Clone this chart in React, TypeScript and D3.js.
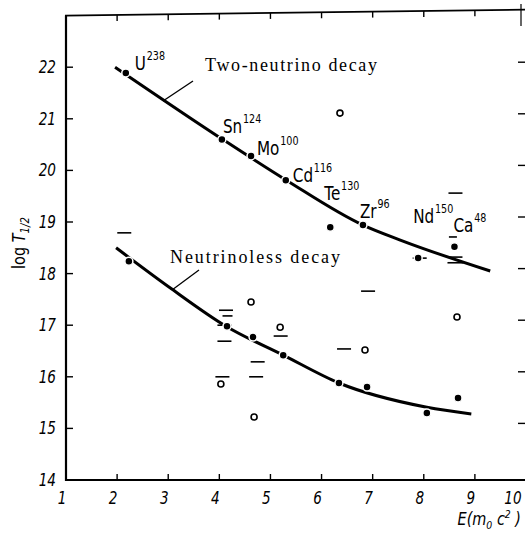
import React from "react";
import * as d3 from "d3";

// ---- data ----
const xTicks = [1, 2, 3, 4, 5, 6, 7, 8, 9, 10];
const yTicks = [14, 15, 16, 17, 18, 19, 20, 21, 22];

// two-neutrino decay curve
const twoNuCurveX = [1.96, 4.05, 5.31, 6.81, 7.54, 9.3];
const twoNuCurveY = [22.0, 20.61, 19.81, 18.94, 18.65, 18.05];

// neutrinoless decay curve
const zeroNuCurveX = [1.98, 3.07, 4.13, 5.25, 6.34, 8.06, 8.93];
const zeroNuCurveY = [18.5, 17.7, 16.98, 16.42, 15.88, 15.41, 15.28];

// isotopes (two-neutrino measured points)
const isotopes = ["U", "Sn", "Mo", "Cd", "Te", "Zr", "Nd", "Ca"];
const massNumbers = ["238", "124", "100", "116", "130", "96", "150", "48"];
const twoNuX = [2.17, 4.05, 4.62, 5.3, 6.17, 6.81, 7.89, 8.6];
const twoNuY = [21.89, 20.6, 20.28, 19.81, 18.9, 18.94, 18.3, 18.52];

// neutrinoless filled points
const zeroNuX = [2.23, 4.15, 4.66, 5.25, 6.34, 6.89, 8.06, 8.67];
const zeroNuY = [18.24, 16.98, 16.77, 16.42, 15.88, 15.8, 15.3, 15.59];

// open circles
const openX = [4.03, 4.62, 4.68, 5.19, 6.36, 6.85, 8.65];
const openY = [15.86, 17.45, 15.22, 16.96, 21.11, 16.52, 17.16];

// horizontal dashes (limits)
const dashX = [2.14, 4.13, 4.16, 4.1, 4.1, 4.06, 4.75, 4.72, 5.2, 6.44, 6.91, 8.62, 8.57, 8.62, 8.62, 7.92];
const dashY = [18.79, 17.29, 17.18, 17.0, 16.69, 16.0, 16.29, 16.0, 16.79, 16.54, 17.66, 19.56, 18.71, 18.32, 18.21, 18.3];

// label offsets (px) from each isotope point: style only
const labelDx = [9, 1, 6, 7, -6, -3, -5, -1];
const labelDy = [-3, -6, -1, 2, -27, -7, -35, -15];
const dashHalf = [7, 7, 5, 7, 7, 7, 7, 7, 7, 7, 7, 7, 4, 7, 8, 7];

const W = 525;
const H = 533;

export default function App() {
  const x = d3.scaleLinear().domain([1, 10]).range([66, 526]);
  const y = d3.scaleLinear().domain([14, 23]).range([480, 15.6]);

  const line = d3
    .line<[number, number]>()
    .x((d) => x(d[0]))
    .y((d) => y(d[1]))
    .curve(d3.curveMonotoneX);

  const twoNuPath = line(twoNuCurveX.map((v, i) => [v, twoNuCurveY[i]]) as [number, number][]) || "";
  const zeroNuPath = line(zeroNuCurveX.map((v, i) => [v, zeroNuCurveY[i]]) as [number, number][]) || "";

  const sans = "'DejaVu Sans', 'Liberation Sans', sans-serif";
  const serif = "'Liberation Serif', 'DejaVu Serif', serif";
  const SX = 0.8;

  const x0 = x(1);
  const yb = y(14);
  const yt = y(23);

  return (
    <svg
      width={W}
      height={H}
      viewBox={`0 0 ${W} ${H}`}
      style={{ position: "absolute", left: 0, top: 0, background: "#fff" }}
    >
      <rect x={0} y={0} width={W} height={H} fill="#fff" />
      {/* frame */}
      <line x1={x0} y1={yt} x2={x0} y2={yb + 1} stroke="#000" strokeWidth={2.2} />
      <line x1={x0 - 1} y1={yb} x2={W} y2={yb} stroke="#000" strokeWidth={2.2} />
      <line x1={x0 - 1} y1={yt} x2={W} y2={yt - 6} stroke="#000" strokeWidth={1.8} />
      <line x1={521} y1={4} x2={521} y2={26} stroke="#000" strokeWidth={1.2} />

      {/* left ticks & labels */}
      {yTicks.map((t) => (
        <g key={"y" + t}>
          {t > 14 && <line x1={x0} x2={x0 + 7} y1={y(t)} y2={y(t)} stroke="#000" strokeWidth={1.4} />}
          <g transform={`translate(56,${y(t) + 6}) scale(${SX},1)`}>
            <text x={0} y={0} textAnchor="end" fontFamily={sans} fontStyle="italic" fontSize={17}>
              {t}
            </text>
          </g>
        </g>
      ))}
      {/* right ticks */}
      {yTicks.filter((t) => t > 14).map((t) => (
        <line key={"r" + t} x1={518} x2={525} y1={y(t) - 5} y2={y(t) - 5} stroke="#000" strokeWidth={1.4} />
      ))}

      {/* bottom & top ticks, labels */}
      {xTicks.map((t) => (
        <g key={"x" + t}>
          {t > 1 && t < 10 && (
            <>
              <line x1={x(t)} x2={x(t)} y1={yb} y2={yb - 6} stroke="#000" strokeWidth={1.4} />
              <line
                x1={x(t)}
                x2={x(t)}
                y1={yt - ((x(t) - x0) / (W - x0)) * 6}
                y2={yt - ((x(t) - x0) / (W - x0)) * 6 + 6}
                stroke="#000"
                strokeWidth={1.4}
              />
            </>
          )}
          <g transform={`translate(${t === 10 ? 513 : x(t) - 4},504) scale(${SX},1)`}>
            <text x={0} y={0} textAnchor="middle" fontFamily={sans} fontStyle="italic" fontSize={17}>
              {t}
            </text>
          </g>
        </g>
      ))}

      {/* axis titles */}
      <g transform={`translate(521,525) scale(0.85,1)`}>
        <text x={0} y={0} textAnchor="end" fontFamily={sans} fontStyle="italic" fontSize={17}>
          E(m
          <tspan fontSize={11} dy={4}>0</tspan>
          <tspan dy={-4}> c</tspan>
          <tspan fontSize={11} dy={-7}>2</tspan>
          <tspan dy={7}> )</tspan>
        </text>
      </g>
      <g transform="translate(25,243) rotate(-90) scale(0.85,1)">
        <text x={0} y={0} textAnchor="middle" fontFamily={sans} fontSize={17}>
          log <tspan fontStyle="italic">T</tspan>
          <tspan fontSize={12} dy={4} fontStyle="italic">1/2</tspan>
        </text>
      </g>

      {/* curves */}
      <path d={twoNuPath} fill="none" stroke="#000" strokeWidth={3} />
      <path d={zeroNuPath} fill="none" stroke="#000" strokeWidth={3} />

      {/* leader lines & curve labels */}
      <line x1={193} y1={81} x2={163} y2={101} stroke="#000" strokeWidth={1.3} />
      <line x1={199} y1={270} x2={172} y2={290} stroke="#000" strokeWidth={1.3} />
      <text x={205} y={71} fontFamily={serif} fontSize={18} textLength={172} lengthAdjust="spacing">
        Two-neutrino decay
      </text>
      <text x={170} y={263} fontFamily={serif} fontSize={18} textLength={170} lengthAdjust="spacing">
        Neutrinoless decay
      </text>

      {/* dashes */}
      {dashX.map((v, i) => (
        <line
          key={"d" + i}
          x1={x(v) - dashHalf[i]}
          x2={x(v) + dashHalf[i]}
          y1={y(dashY[i])}
          y2={y(dashY[i])}
          stroke="#000"
          strokeWidth={1.6}
        />
      ))}

      {/* open circles */}
      {openX.map((v, i) => (
        <circle key={"o" + i} cx={x(v)} cy={y(openY[i])} r={3} fill="#fff" stroke="#000" strokeWidth={1.6} />
      ))}

      {/* filled points */}
      {twoNuX.map((v, i) => (
        <circle key={"t" + i} cx={x(v)} cy={y(twoNuY[i])} r={4} fill="#000" stroke="#fff" strokeWidth={1.5} />
      ))}
      {zeroNuX.map((v, i) => (
        <circle key={"z" + i} cx={x(v)} cy={y(zeroNuY[i])} r={4} fill="#000" stroke="#fff" strokeWidth={1.5} />
      ))}

      {/* isotope labels */}
      {isotopes.map((name, i) => (
        <g
          key={"l" + i}
          transform={`translate(${x(twoNuX[i]) + labelDx[i]},${y(twoNuY[i]) + labelDy[i]}) scale(${SX},1)`}
        >
          <text x={0} y={0} fontFamily={sans} fontSize={19}>
            {name}
            <tspan fontSize={12} dy={-10} dx={1}>
              {massNumbers[i]}
            </tspan>
          </text>
        </g>
      ))}
    </svg>
  );
}
